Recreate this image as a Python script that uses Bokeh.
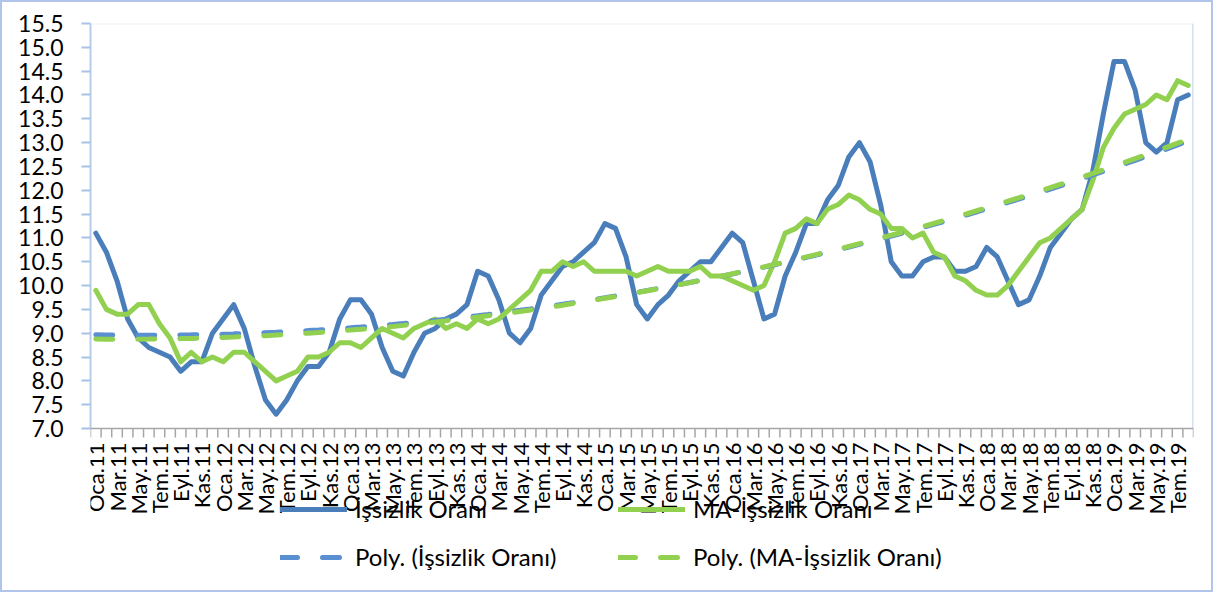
import numpy as np
from bokeh.plotting import figure
from bokeh.models import (FixedTicker, Legend, LegendItem, Range1d,
                          PrintfTickFormatter, Span)
from bokeh.core.properties import value
from bokeh.embed import file_html
from bokeh.resources import INLINE

# ---- data -------------------------------------------------------------
month_abbr = ["Oca", "Şub", "Mar", "Nis", "May", "Haz",
              "Tem", "Ağu", "Eyl", "Eki", "Kas", "Ara"]
years = ["11", "12", "13", "14", "15", "16", "17", "18", "19"]
categories = [f"{m}.{y}" for y in years for m in month_abbr][:104]   # Oca.11 .. Ağu.19

issizlik = [
    11.1, 10.7, 10.1, 9.3, 8.9, 8.7, 8.6, 8.5, 8.2, 8.4, 8.4, 9.0,    # 2011
    9.3, 9.6, 9.1, 8.3, 7.6, 7.3, 7.6, 8.0, 8.3, 8.3, 8.6, 9.3,       # 2012
    9.7, 9.7, 9.4, 8.7, 8.2, 8.1, 8.6, 9.0, 9.1, 9.3, 9.4, 9.6,       # 2013
    10.3, 10.2, 9.7, 9.0, 8.8, 9.1, 9.8, 10.1, 10.4, 10.5, 10.7, 10.9,  # 2014
    11.3, 11.2, 10.6, 9.6, 9.3, 9.6, 9.8, 10.1, 10.3, 10.5, 10.5, 10.8,  # 2015
    11.1, 10.9, 10.1, 9.3, 9.4, 10.2, 10.7, 11.3, 11.3, 11.8, 12.1, 12.7,  # 2016
    13.0, 12.6, 11.7, 10.5, 10.2, 10.2, 10.5, 10.6, 10.6, 10.3, 10.3, 10.4,  # 2017
    10.8, 10.6, 10.1, 9.6, 9.7, 10.2, 10.8, 11.1, 11.4, 11.6, 12.4, 13.6,  # 2018
    14.7, 14.7, 14.1, 13.0, 12.8, 13.0, 13.9, 14.0,                       # 2019
]

ma_issizlik = [
    9.9, 9.5, 9.4, 9.4, 9.6, 9.6, 9.2, 8.9, 8.4, 8.6, 8.4, 8.5,
    8.4, 8.6, 8.6, 8.4, 8.2, 8.0, 8.1, 8.2, 8.5, 8.5, 8.6, 8.8,
    8.8, 8.7, 8.9, 9.1, 9.0, 8.9, 9.1, 9.2, 9.3, 9.1, 9.2, 9.1,
    9.3, 9.2, 9.3, 9.5, 9.7, 9.9, 10.3, 10.3, 10.5, 10.4, 10.5, 10.3,
    10.3, 10.3, 10.3, 10.2, 10.3, 10.4, 10.3, 10.3, 10.3, 10.4, 10.2, 10.2,
    10.1, 10.0, 9.9, 10.0, 10.5, 11.1, 11.2, 11.4, 11.3, 11.6, 11.7, 11.9,
    11.8, 11.6, 11.5, 11.2, 11.2, 11.0, 11.1, 10.7, 10.6, 10.2, 10.1, 9.9,
    9.8, 9.8, 10.0, 10.3, 10.6, 10.9, 11.0, 11.2, 11.4, 11.6, 12.2, 12.9,
    13.3, 13.6, 13.7, 13.8, 14.0, 13.9, 14.3, 14.2,
]

y_ticks = [7.0, 7.5, 8.0, 8.5, 9.0, 9.5, 10.0, 10.5, 11.0, 11.5,
           12.0, 12.5, 13.0, 13.5, 14.0, 14.5, 15.0, 15.5]

labels = ["İşsizlik Oranı", "MA-İşsizlik Oranı",
          "Poly. (İşsizlik Oranı)", "Poly. (MA-İşsizlik Oranı)"]

# ---- derived (polynomial trendlines, order 2, like the spreadsheet) ----
n = len(issizlik)
xs = np.arange(n)
trend_issizlik = np.polyval(np.polyfit(xs + 1, issizlik, 2), xs + 1)
trend_ma = np.polyval(np.polyfit(xs + 1, ma_issizlik, 2), xs + 1)

# ---- geometry / styling -----------------------------------------------
BLUE = "#4A7EBB"
BLUE_D = "#5A8FD2"
GREEN = "#92D050"
AX_GREY = "#A6A6A6"
FONT = "Lato"

Y_MIN, Y_MAX = y_ticks[0], y_ticks[-1]
PLOT_H = 405                      # px between 7.0 and 15.5
FRAME_H = 567                     # frame reaches down over label + legend area
PPU = PLOT_H / (Y_MAX - Y_MIN)    # px per unit
y_start = Y_MAX - FRAME_H / PPU

def px(d):
    """pixel distance -> data units on the y scale"""
    return d / PPU

p = figure(frame_width=1103, frame_height=FRAME_H,
           x_range=Range1d(-0.5, n - 0.5), y_range=Range1d(y_start, Y_MAX),
           output_backend="svg", toolbar_location=None,
           min_border_left=88, min_border_right=18,
           min_border_top=21, min_border_bottom=0)
p.styles = {"border": "2px solid #B0C5E9"}
p.background_fill_color = "white"
p.border_fill_color = "white"
p.outline_line_color = None
p.xgrid.visible = False
p.ygrid.visible = False
p.xaxis.visible = False

# faint plot-area edges (top and right)
p.segment(x0=[-0.5], y0=[Y_MAX], x1=[n - 0.5], y1=[Y_MAX],
          line_color="#EEF1F6", line_width=2)
p.segment(x0=[n - 0.5], y0=[Y_MIN], x1=[n - 0.5], y1=[Y_MAX],
          line_color="#D5E0F1", line_width=3)

r1 = p.line(xs, issizlik, line_color=BLUE, line_width=5,
            line_join="round", line_cap="round")
r2 = p.line(xs, ma_issizlik, line_color=GREEN, line_width=5,
            line_join="round", line_cap="round")
r3 = p.line(xs, trend_issizlik, line_color=BLUE_D, line_width=5,
            line_dash="17 25", line_cap="round")
r4 = p.line(xs, trend_ma, line_color=GREEN, line_width=5,
            line_dash="17 25", line_cap="round")

# y axis (real axis, bounded to the value range)
ya = p.yaxis[0]
ya.bounds = (Y_MIN, Y_MAX)
ya.ticker = FixedTicker(ticks=y_ticks)
ya.formatter = PrintfTickFormatter(format="%.1f")
ya.axis_line_color = "#B7CBEA"
ya.axis_line_width = 2
ya.major_tick_line_color = "#A9C1E9"
ya.major_tick_line_width = 2
ya.major_tick_out = 9
ya.major_tick_in = 0
ya.minor_tick_out = 0
ya.minor_tick_in = 0
ya.major_label_standoff = 18
ya.major_label_text_font = FONT
ya.major_label_text_font_size = "23px"
ya.major_label_text_color = "black"

# category axis at the 7.0 level: line, boundary ticks, rotated labels
p.add_layout(Span(location=Y_MIN, dimension="width",
                  line_color=AX_GREY, line_width=1.5))
bounds = [k - 0.5 for k in range(n + 1)]
p.segment(x0=bounds, y0=[Y_MIN] * len(bounds),
          x1=bounds, y1=[Y_MIN - px(9)] * len(bounds),
          line_color=AX_GREY, line_width=1.5)
label_idx = list(range(0, n, 2))
p.text(x=label_idx, y=[Y_MIN - px(14)] * len(label_idx),
       text=[categories[i] for i in label_idx],
       angle=np.pi / 2, text_align="right", text_baseline="middle",
       text_font=value(FONT), text_font_size=value("22px"),
       text_color="black")

# legends (two columns)
def make_legend(items, x):
    return Legend(items=items, location=(x, 19), orientation="vertical",
                  glyph_width=67, glyph_height=28, label_height=28,
                  label_standoff=8, spacing=19, padding=0, margin=0,
                  border_line_alpha=0, background_fill_alpha=0,
                  label_text_font=FONT, label_text_font_size="24px",
                  label_text_color="black")

leg1 = make_legend([LegendItem(label=labels[0], renderers=[r1]),
                    LegendItem(label=labels[2], renderers=[r3])], 190)
leg2 = make_legend([LegendItem(label=labels[1], renderers=[r2]),
                    LegendItem(label=labels[3], renderers=[r4])], 528)
p.add_layout(leg1, "center")
p.add_layout(leg2, "center")

open("out.html", "w").write(file_html(p, INLINE))
